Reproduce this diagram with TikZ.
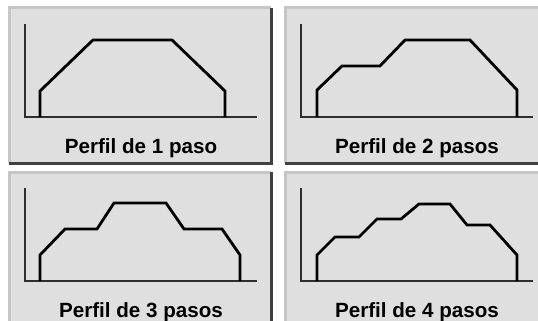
\documentclass[tikz,border=0pt]{standalone}
\usepackage{fontspec}
\setmainfont{Liberation Sans}
\usepackage{xcolor}
\usetikzlibrary{positioning}
\definecolor{panelgray}{HTML}{DFDFDF}
\definecolor{lightedge}{HTML}{C6C6C6}
\definecolor{darkedge}{HTML}{404040}
\definecolor{axisgray}{HTML}{2E2E2E}

\begin{document}
\begin{tikzpicture}[
    x=1pt, y=-1pt,
    % Styles
    panel/.style={fill=panelgray, minimum width=262pt, minimum height=155pt,
        inner sep=0pt, anchor=north west},
    litedge/.style={draw=lightedge, line width=3pt},
    drkedge/.style={draw=darkedge, line width=2.2pt},
    axis/.style={draw=axisgray, line width=1.3pt},
    profile/.style={draw=black, line width=2.8pt, line join=miter},
    caption/.style={font=\fontsize{20.6}{24}\selectfont\bfseries, anchor=base},
]
\useasboundingbox[fill=white] (0,0) rectangle (538,321);

% ===== Panels =====
\foreach \name/\px/\py in {p1/9/8, p2/285/8, p3/9/172, p4/285/172} {
    \node[panel] (\name) at (\px,\py) {};
    \draw[litedge] (\name.south west) -- (\name.north west) -- (\name.north east);
    \draw[drkedge] (\name.north east) -- (\name.south east) -- (\name.south west);
}

% ===== Perfil de 1 paso =====
\draw[axis] (25,24) -- (25,117) -- (257,117);
\draw[profile] (40,117) -- (40,91) -- (93,40) -- (172,40) -- (225,91) -- (225,117);
\node[caption] (cap1) at (141,153) {Perfil de 1 paso};

% ===== Perfil de 2 pasos =====
\draw[axis] (301,24) -- (301,117) -- (533,117);
\draw[profile] (317,117) -- (317,90) -- (342,66) -- (380,66) -- (405,40)
    -- (470,40) -- (517,90) -- (517,117);
\node[caption] (cap2) at (417,153) {Perfil de 2 pasos};

% ===== Perfil de 3 pasos =====
\draw[axis] (25,188) -- (25,281) -- (257,281);
\draw[profile] (40,281) -- (40,255) -- (65,229) -- (97,229) -- (114,203)
    -- (166,203) -- (184,229) -- (222,229) -- (240,255) -- (240,281);
\node[caption] (cap3) at (141,317) {Perfil de 3 pasos};

% ===== Perfil de 4 pasos =====
\draw[axis] (301,188) -- (301,281) -- (533,281);
\draw[profile] (317,281) -- (317,255) -- (335,237) -- (359,237) -- (377,219)
    -- (401,219) -- (419,204) -- (450,204) -- (467,225) -- (490,225)
    -- (517,255) -- (517,281);
\node[caption] (cap4) at (417,317) {Perfil de 4 pasos};

\end{tikzpicture}
\end{document}
